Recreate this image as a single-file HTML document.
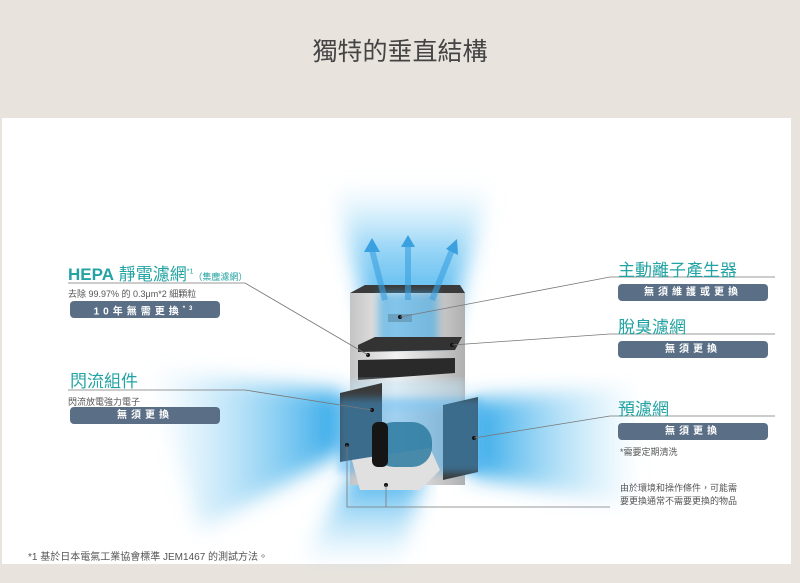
<!DOCTYPE html>
<html><head><meta charset="utf-8"><style>
body{margin:0;width:800px;height:583px;background:#e8e3dd;position:relative;overflow:hidden;font-family:"Liberation Sans","Noto Sans CJK TC",sans-serif}
.abs{position:absolute}
.panel{left:2px;top:118px;width:789px;height:446px;background:#fff}
.t{color:#23a3a3;font-size:17px;white-space:nowrap}
.s{color:#555;font-size:9px;white-space:nowrap}
.btn{background:#5a6f86;color:#fff;font-size:10px;letter-spacing:4px;text-align:center;border-radius:4px;height:17px;line-height:17px;font-weight:bold}
</style></head><body>
<div class="abs" style="left:0;top:32px;width:800px;text-align:center;font-size:25px;color:#444">獨特的垂直結構</div>
<div class="abs panel"></div>
<svg class="abs" style="left:0;top:0" width="800" height="583">
<defs>
<filter id="b"><feGaussianBlur stdDeviation="10"/></filter>
<filter id="b2"><feGaussianBlur stdDeviation="4"/></filter>
<linearGradient id="up" x1="0" y1="1" x2="0" y2="0"><stop offset="0" stop-color="#1ea0e8" stop-opacity="1"/><stop offset=".6" stop-color="#4fb8f0" stop-opacity=".6"/><stop offset="1" stop-color="#8fd4f5" stop-opacity="0"/></linearGradient>
<linearGradient id="dn" x1="0" y1="0" x2="0" y2="1"><stop offset="0" stop-color="#1ea0e8" stop-opacity=".9"/><stop offset="1" stop-color="#8fd4f5" stop-opacity="0"/></linearGradient>
<linearGradient id="lf" x1="1" y1="0" x2="0" y2="0"><stop offset="0" stop-color="#2aa5e8" stop-opacity="1"/><stop offset="1" stop-color="#8fd4f5" stop-opacity="0"/></linearGradient>
<linearGradient id="rt" x1="0" y1="0" x2="1" y2="0"><stop offset="0" stop-color="#2aa5e8" stop-opacity="1"/><stop offset="1" stop-color="#8fd4f5" stop-opacity="0"/></linearGradient>
<linearGradient id="body" x1="0" y1="0" x2="1" y2="0"><stop offset="0" stop-color="#c4c4c4"/><stop offset=".4" stop-color="#f2f2f2"/><stop offset="1" stop-color="#b0b0b0"/></linearGradient>
</defs>
<polygon points="335,185 490,185 445,345 375,345" fill="url(#up)" filter="url(#b)"/>
<polygon points="345,392 345,450 200,530 150,370" fill="url(#lf)" filter="url(#b)"/>
<polygon points="470,400 470,475 630,505 640,385" fill="url(#rt)" filter="url(#b)"/>
<polygon points="355,470 425,470 400,565 300,565" fill="url(#dn)" filter="url(#b)"/>
<polygon points="350,293 465,293 465,485 350,485" fill="url(#body)"/>
<polygon points="350,293 365,285 460,285 465,293" fill="#3a3a3a"/>
<rect x="378" y="292" width="60" height="55" fill="#3aa8e6" opacity=".6" filter="url(#b2)"/>
<path d="M385,300 L372,250 M408,300 L408,245 M432,300 L452,250" stroke="#3aa0e0" stroke-width="6" opacity=".6"/>
<polygon points="364,252 372,238 380,252" fill="#3aa0e0"/><polygon points="401,247 408,235 415,247" fill="#3aa0e0"/><polygon points="446,249 457,239 458,255" fill="#3aa0e0"/>
<rect x="388" y="314" width="24" height="8" fill="#6aa0c0"/>
<polygon points="358,345 375,337 462,337 455,350 358,352" fill="#333"/>
<polygon points="358,360 455,358 455,373 358,380" fill="#2a2a2a"/>
<rect x="350" y="380" width="115" height="30" fill="#bfe4f7" opacity=".5" filter="url(#b2)"/>
<polygon points="340,393 382,383 382,455 340,462" fill="#3a3a3a"/>
<polygon points="443,405 478,397 478,472 443,480" fill="#3a3a3a"/>
<rect x="338" y="398" width="145" height="75" fill="#40aaf0" opacity=".45" filter="url(#b2)"/>
<polygon points="352,460 430,448 440,470 420,490 360,490" fill="#e0e0e0"/>
<rect x="374" y="422" width="58" height="45" rx="20" fill="#2d7aa0" opacity=".85"/>
<rect x="372" y="422" width="16" height="45" rx="6" fill="#151515"/>
<g fill="#111"><circle cx="400" cy="317" r="2"/><circle cx="452" cy="345" r="2"/><circle cx="368" cy="355" r="2"/><circle cx="372" cy="410" r="2"/><circle cx="474" cy="438" r="2"/><circle cx="347" cy="445" r="2"/><circle cx="386" cy="485" r="2"/></g>
<g stroke="#777" stroke-width="0.8" fill="none">
<polyline points="68,283 245,283 368,355"/>
<polyline points="68,390 245,390 372,410"/>
<polyline points="400,317 610,277 775,277"/>
<polyline points="452,345 610,334 775,334"/>
<polyline points="474,438 610,416 775,416"/>
<polyline points="347,445 347,507 610,507"/>
<line x1="386" y1="485" x2="386" y2="507"/>
</g>
</svg>
<div class="abs t" style="left:68px;top:260px"><b>HEPA</b> 靜電濾網<sup style="font-size:7px">*1</sup><span style="font-size:9px">（集塵濾網）</span></div>
<div class="abs s" style="left:68px;top:287px">去除 99.97% 的 0.3μm*2 細顆粒</div>
<div class="abs btn" style="left:70px;top:301px;width:150px">10年無需更換<sup style="font-size:6px">*3</sup></div>
<div class="abs t" style="left:70px;top:367px">閃流組件</div>
<div class="abs s" style="left:68px;top:395px">閃流放電強力電子</div>
<div class="abs btn" style="left:70px;top:407px;width:150px">無須更換</div>
<div class="abs t" style="left:618px;top:256px">主動離子產生器</div>
<div class="abs btn" style="left:618px;top:284px;width:150px">無須維護或更換</div>
<div class="abs t" style="left:618px;top:313px">脫臭濾網</div>
<div class="abs btn" style="left:618px;top:341px;width:150px">無須更換</div>
<div class="abs t" style="left:618px;top:395px">預濾網</div>
<div class="abs btn" style="left:618px;top:423px;width:150px">無須更換</div>
<div class="abs s" style="left:620px;top:445px">*需要定期清洗</div>
<div class="abs s" style="left:620px;top:482px;line-height:13px">由於環境和操作條件，可能需<br>要更換通常不需要更換的物品</div>
<div class="abs s" style="left:28px;top:548px;font-size:10px">*1 基於日本電氣工業協會標準 JEM1467 的測試方法。</div>
</body></html>
